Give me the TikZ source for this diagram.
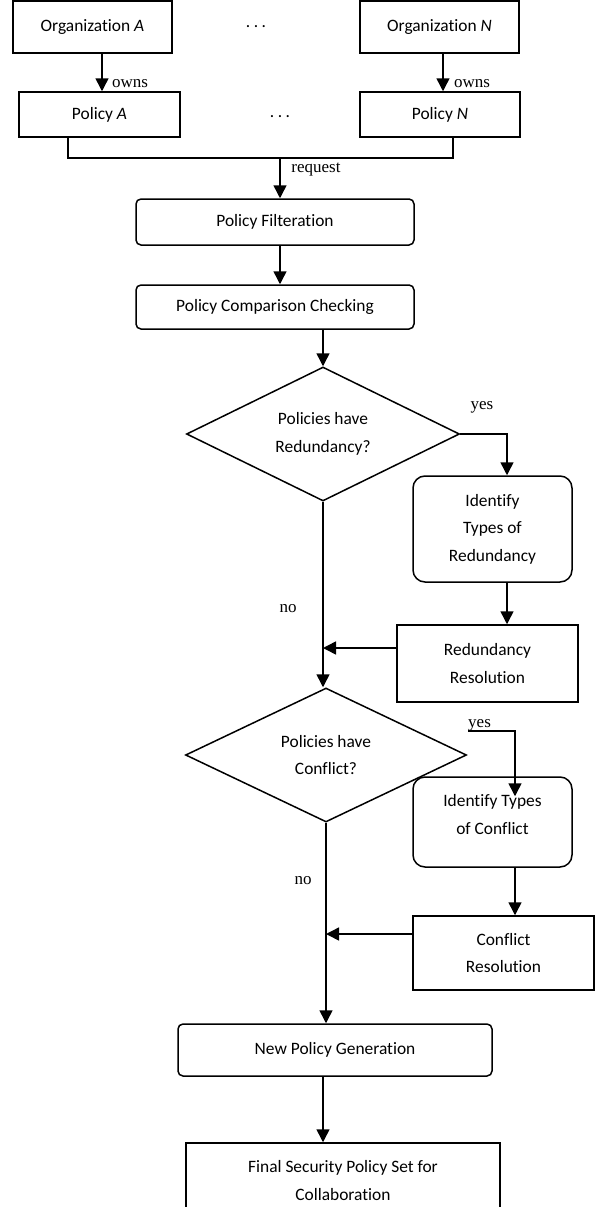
\documentclass[tikz,border=0pt]{standalone}
\usepackage{fontspec}
\setmainfont{Carlito}[Ligatures=NoCommon]
\newfontfamily\timesfont{Liberation Serif}
\usetikzlibrary{shapes.geometric,arrows.meta}

\begin{document}
\begin{tikzpicture}[
    x=1pt, y=-1pt,
    txt/.style={font=\fontsize{17.4}{27.5}\selectfont},
    box/.style={txt, draw, line width=1.5pt, inner sep=0pt, align=center},
    rbox/.style={box, rounded corners=5pt},
    bigrbox/.style={box, rounded corners=12pt},
    decision/.style={box, diamond, aspect=2},
    edge/.style={line width=1.5pt},
    flow/.style={edge, -{Triangle[length=13pt,width=13pt]}},
    lbl/.style={font=\timesfont\fontsize{17}{20}\selectfont, inner sep=0pt}
]
\useasboundingbox (0,0) rectangle (595,1207);

% Top rows: organizations and their policies
\node[box, minimum width=159pt, minimum height=52pt] (orgA) at (92.5,27) {Organization \textit{A}};
\node[box, minimum width=159pt, minimum height=52pt] (orgN) at (439.5,27) {Organization \textit{N}};
\node[txt] (dotsOrg) at (256,27) {.\hspace{3.5pt}.\hspace{3.5pt}.};

\node[box, minimum width=161pt, minimum height=45pt] (polA) at (99.5,114.5) {Policy \textit{A}};
\node[box, minimum width=160pt, minimum height=45pt] (polN) at (440,114.5) {Policy \textit{N}};
\node[txt] (dotsPol) at (280,117) {.\hspace{3.5pt}.\hspace{3.5pt}.};

\draw[flow] ([xshift=9.5pt]orgA.south) -- ([xshift=9.5pt]orgA.south |- polA.north);
\node[lbl] (ownsA) at (130,84) {owns};
\draw[flow] ([xshift=3.5pt]orgN.south) -- ([xshift=3.5pt]orgN.south |- polN.north);
\node[lbl] (ownsN) at (472,84) {owns};

% Merge into filtering and comparison
\coordinate (merge) at (280,158);
\draw[edge] ([xshift=-31.5pt]polA.south) |- (merge) -| ([xshift=13pt]polN.south);

\node[rbox, minimum width=278pt, minimum height=46pt] (filter) at (275,222) {Policy Filteration};
\draw[flow] (merge) -- (merge |- filter.north);
\node[lbl] (request) at (316,170) {request};

\node[rbox, minimum width=278pt, minimum height=44pt] (compare) at (275,307) {Policy Comparison Checking};
\draw[flow] (merge |- filter.south) -- (merge |- compare.north);

% Redundancy branch
\node[decision, minimum width=273pt, minimum height=134pt] (red) at (323,434) {Policies have\\Redundancy?};
\draw[flow] (red.north |- compare.south) -- (red.north);

\node[lbl] (yesR) at (482,407) {yes};
\node[bigrbox, minimum width=159pt, minimum height=106pt] (idr) at (492.5,529) {Identify\\Types of\\Redundancy};
\draw[flow] (red.east) -| ([xshift=14.5pt]idr.north);

\node[box, minimum width=181pt, minimum height=77pt] (rr) at (487.5,663.5) {Redundancy\\Resolution};
\draw[flow] ([xshift=14.5pt]idr.south) -- ([xshift=14.5pt]idr.south |- rr.north);
\draw[flow] ([yshift=15.5pt]rr.west) -- ([yshift=15.5pt]rr.west -| red.south);
\node[lbl] (noR) at (288,609) {no};

% Conflict branch
\node[decision, minimum width=281pt, minimum height=134pt] (conf) at (326,755) {Policies have\\Conflict?};
\draw[flow] (red.south) -- (red.south |- conf.north);

\node[lbl, anchor=south west] (yesC) at (468,731) {yes};
\node[bigrbox, minimum width=159pt, minimum height=90pt] (idc) at (492.5,822) {Identify Types\\of Conflict\\[-12pt]};
\coordinate (tipC) at ([xshift=22.5pt,yshift=-20pt]idc.north);
\draw[flow] (yesC.south west) -| (tipC);

\node[box, minimum width=181pt, minimum height=74pt] (cr) at (503.5,953) {Conflict\\Resolution};
\draw[flow] ([xshift=22.5pt]idc.south) -- ([xshift=22.5pt]idc.south |- cr.north);
\draw[flow] ([yshift=19pt]cr.west) -- ([yshift=19pt]cr.west -| conf.south);
\node[lbl] (noC) at (303,881) {no};

% Result
\node[rbox, minimum width=314pt, minimum height=52pt] (newp) at (335,1050) {New Policy Generation};
\draw[flow] (conf.south) -- (conf.south |- newp.north);

\node[box, minimum width=314pt, minimum height=75pt] (final) at (343,1180.5) {Final Security Policy Set for\\Collaboration};
\draw[flow] ([xshift=-12pt]newp.south) -- ([xshift=-12pt]newp.south |- final.north);

\end{tikzpicture}
\end{document}
